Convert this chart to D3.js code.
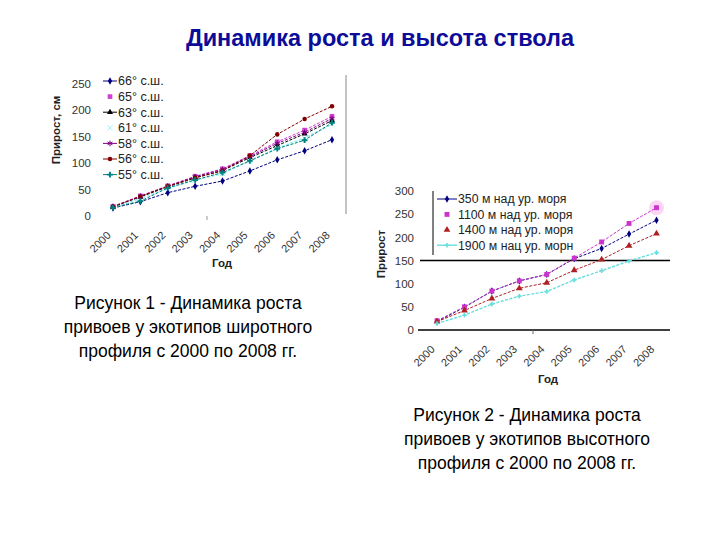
<!DOCTYPE html>
<html><head><meta charset="utf-8">
<script src="https://cdn.jsdelivr.net/npm/d3@7"></script>
<style>body{margin:0;background:#fff} svg{display:block} text{font-family:Arial,"Liberation Sans",sans-serif}</style>
</head><body><svg id="c" width="720" height="540"></svg>
<script>
// ---- data ----
const years = ["2000","2001","2002","2003","2004","2005","2006","2007","2008"];
const latNames = ["66° с.ш.","65° с.ш.","63° с.ш.","61° с.ш.","58° с.ш.","56° с.ш.","55° с.ш."];
const lat66 = [15, 27, 44, 56, 66, 85, 106, 123, 144];
const lat65 = [18, 38, 57, 75, 89, 114, 140, 162, 188];
const lat63 = [17, 36, 55, 72, 86, 110, 133, 155, 180];
const lat61 = [16, 33, 52, 68, 80, 104, 128, 147, 173];
const lat58 = [18, 37, 56, 74, 88, 112, 137, 158, 184];
const lat56 = [17, 37, 56, 72, 85, 114, 154, 183, 207];
const lat55 = [16, 28, 53, 68, 82, 104, 127, 143, 176];
const altNames = ["350 м над ур. моря","1100 м над ур. моря","1400 м над ур. моря","1900 м нац ур. морн"];
const alt350 = [18, 49, 84, 106, 120, 154, 176, 207, 237];
const alt1100 = [20, 50, 84, 106, 120, 155, 190, 230, 264];
const alt1400 = [18, 42, 68, 90, 102, 129, 152, 182, 208];
const alt1900 = [14, 32, 56, 73, 83, 108, 128, 149, 167];
const ticks1 = [0, 50, 100, 150, 200, 250];
const ticks2 = [0, 50, 100, 150, 200, 250, 300];
const title = "Динамика роста и высота ствола";
const caption1 = ["Рисунок 1 - Динамика роста","привоев у экотипов широтного","профиля с 2000 по 2008 гг."];
const caption2 = ["Рисунок 2 - Динамика роста","привоев у экотипов высотного","профиля с 2000 по 2008 гг."];

const svg = d3.select("#c");
const symTimes = d3.symbolTimes || d3.symbolX || d3.symbolCross;
const symAst = d3.symbolAsterisk || d3.symbolStar;

// title
svg.append("text").attr("x", 380).attr("y", 46).attr("text-anchor","middle")
  .attr("font-size", 23.5).attr("font-weight","bold").attr("fill","#0c0c98").text(title);

function drawChart(o){
  const x = d3.scalePoint().domain(years).range(o.xr);
  const y = d3.scaleLinear().domain(o.yd).range(o.yr);
  const g = svg.append("g");
  // y axis labels
  const ya = g.append("g").attr("transform",`translate(${o.yAxisX},0)`)
    .call(d3.axisLeft(y).tickValues(o.ticks).tickSize(0).tickPadding(3).tickFormat(d3.format("d")));
  ya.select(".domain").remove();
  ya.selectAll("text").attr("font-size",11.5).attr("fill","#333").attr("font-family","Arial, Liberation Sans, sans-serif");
  // x axis labels
  const xa = g.append("g").attr("transform",`translate(0,${y(0)})`)
    .call(d3.axisBottom(x).tickSize(0));
  xa.select(".domain").remove();
  xa.selectAll("text").attr("y",0).attr("dy",0).attr("text-anchor","end")
    .attr("transform","translate(-2,20) rotate(-45)")
    .attr("font-size",11).attr("fill","#333").attr("font-family","Arial, Liberation Sans, sans-serif");
  if (o.extra) o.extra(g, x, y);
  // lines
  const line = d3.line().x((d,i)=>x(years[i])).y(d=>y(d));
  o.series.forEach(s=>{
    g.append("path").datum(s.values).attr("d",line).attr("fill","none")
      .attr("stroke",s.color).attr("stroke-width",s.w||1).attr("stroke-dasharray",s.dash||"3,1.5");
  });
  o.series.forEach(s=>{
    g.selectAll(null).data(s.values).enter().append("path")
      .attr("transform",(d,i)=>`translate(${x(years[i])},${y(d)})`)
      .attr("d",d3.symbol().type(s.sym).size(s.size||18))
      .attr("fill",s.stroke?"none":s.mcolor||s.color).attr("stroke",s.stroke?(s.mcolor||s.color):"none").attr("stroke-width",1);
  });
  // axis titles
  g.append("text").attr("transform",`translate(${o.ylab[0]},${o.ylab[1]}) rotate(-90)`).attr("text-anchor","middle")
    .attr("font-size",11.5).attr("font-weight","bold").attr("fill","#222").text(o.ylab[2]);
  g.append("text").attr("x",o.xlab[0]).attr("y",o.xlab[1]).attr("text-anchor","middle")
    .attr("font-size",11.5).attr("font-weight","bold").attr("fill","#222").text("Год");
  // legend
  o.series.forEach((s,i)=>{
    const ly = o.leg.y0 + i*o.leg.dy;
    if (!s.noLegLine) g.append("line").attr("x1",o.leg.x).attr("x2",o.leg.x+o.leg.len).attr("y1",ly).attr("y2",ly)
      .attr("stroke",s.color).attr("stroke-width",s.w||1);
    g.append("path").attr("transform",`translate(${o.leg.x+o.leg.len/2},${ly})`)
      .attr("d",d3.symbol().type(s.sym).size(s.size||18))
      .attr("fill",s.stroke?"none":s.mcolor||s.color).attr("stroke",s.stroke?(s.mcolor||s.color):"none");
    g.append("text").attr("x",o.leg.x+o.leg.len+1).attr("y",ly).attr("dy","0.35em")
      .attr("font-size",o.leg.fs).attr("fill","#222").text(s.name);
  });
}

drawChart({
  xr:[113,332], yd:[0,250], yr:[216,83.5], ticks:ticks1, yAxisX:94,
  ylab:[60,130,"Прирост, см"], xlab:[222,267],
  leg:{x:103,len:14,y0:81,dy:15.6,fs:12.5},
  series:[
    {name:latNames[0],values:lat66,color:"#000080",sym:d3.symbolDiamond,size:16},
    {name:latNames[1],values:lat65,color:"#d040d0",sym:d3.symbolSquare,size:22,noLegLine:true},
    {name:latNames[2],values:lat63,color:"#000000",sym:d3.symbolTriangle,size:16},
    {name:latNames[3],values:lat61,color:"#a0f0f0",sym:symTimes,size:18,stroke:true,w:1.6,noLegLine:true},
    {name:latNames[4],values:lat58,color:"#800080",sym:symAst,size:22,stroke:true},
    {name:latNames[5],values:lat56,color:"#800000",sym:d3.symbolCircle,size:16},
    {name:latNames[6],values:lat55,color:"#008080",sym:d3.symbolCross,size:18}
  ],
  extra:(g,x,y)=>{
    g.append("line").attr("x1",346).attr("x2",346).attr("y1",75).attr("y2",214).attr("stroke","#888").attr("stroke-width",1);
    g.append("line").attr("x1",207).attr("x2",207).attr("y1",216).attr("y2",220).attr("stroke","#999");
  }
});

drawChart({
  xr:[437,656.5], yd:[0,300], yr:[330,191], ticks:ticks2, yAxisX:417,
  ylab:[385,254,"Прирост"], xlab:[548,383],
  leg:{x:437,len:20,y0:199,dy:15.4,fs:12.3},
  series:[
    {name:altNames[0],values:alt350,color:"#000080",sym:d3.symbolDiamond,size:16},
    {name:altNames[1],values:alt1100,color:"#cc33cc",sym:d3.symbolSquare,size:24,noLegLine:true},
    {name:altNames[2],values:alt1400,color:"#b02020",sym:d3.symbolTriangle,size:20,noLegLine:true},
    {name:altNames[3],values:alt1900,color:"#66dede",sym:d3.symbolCross,size:12,w:1.4}
  ],
  extra:(g,x,y)=>{
    g.append("circle").attr("cx",x("2008")).attr("cy",y(alt1100[8])).attr("r",7.5).attr("fill","#fbd6f4");
    g.append("line").attr("x1",433).attr("x2",433).attr("y1",191).attr("y2",255).attr("stroke","#000");
    g.append("line").attr("x1",420).attr("x2",670).attr("y1",y(150)).attr("y2",y(150)).attr("stroke","#000").attr("stroke-width",1.3);
    g.append("line").attr("x1",418).attr("x2",670).attr("y1",y(0)).attr("y2",y(0)).attr("stroke","#000").attr("stroke-width",1.3);
    g.append("line").attr("x1",533).attr("x2",533).attr("y1",y(0)).attr("y2",y(0)+4).attr("stroke","#666");
  }
});

// captions
function caption(lines, cx, y0){
  lines.forEach((t,i)=>svg.append("text").attr("x",cx).attr("y",y0+i*24).attr("text-anchor","middle")
    .attr("font-size",17.5).attr("fill","#000").text(t));
}
caption(caption1, 188, 309);
caption(caption2, 527, 421);
</script></body></html>
